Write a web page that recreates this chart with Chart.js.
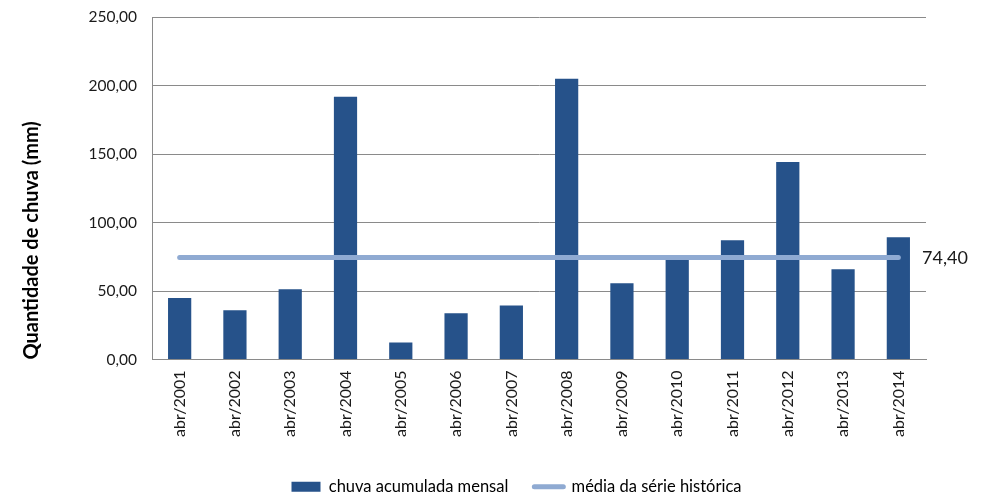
<!DOCTYPE html>
<html>
<head>
<meta charset="utf-8">
<script src="https://cdn.jsdelivr.net/npm/chart.js@4"></script>
<style>
  html, body { margin: 0; padding: 0; background: #fff; }
  #wrap { width: 991px; height: 499px; position: relative; }
</style>
</head>
<body>
<div id="wrap"><canvas id="c" width="991" height="499"></canvas></div>
<script>
const categories = ["abr/2001","abr/2002","abr/2003","abr/2004","abr/2005","abr/2006","abr/2007","abr/2008","abr/2009","abr/2010","abr/2011","abr/2012","abr/2013","abr/2014"];
const chuvaMensal = [44.8, 35.9, 51.2, 191.7, 12.4, 33.7, 39.5, 205.0, 55.6, 74.0, 87.1, 144.2, 65.9, 89.3];
const mediaHistorica = 74.40;
const mediaSerie = categories.map(() => mediaHistorica);
const yTicks = [0, 50, 100, 150, 200, 250];

const FONT = "Lato, 'Open Sans', sans-serif";
const BAR_COLOR = "#26528A";
const LINE_COLOR = "#8FAAD2";
const GRID_COLOR = "#8A8A8A";

function fmt(v) { return v.toFixed(2).replace('.', ','); }

const mediaLabel = {
  id: 'mediaLabel',
  afterLayout(chart) {
    const lg = chart.legend;
    if (!lg) return;
    const shift = 516.5 - (lg.left + lg.right) / 2;
    lg.left += shift; lg.right += shift;
    lg.top += 6; lg.bottom += 6;
  },
  afterDatasetsDraw(chart) {
    const meta = chart.getDatasetMeta(0);
    const last = meta.data[meta.data.length - 1];
    const ctx = chart.ctx;
    ctx.save();
    ctx.font = "18px " + FONT;
    ctx.fillStyle = "#1a1a1a";
    ctx.textAlign = "left";
    ctx.textBaseline = "middle";
    ctx.fillText(fmt(mediaHistorica), chart.chartArea.right - 4, last.y + 1);
    ctx.restore();
  }
};

new Chart(document.getElementById('c'), {
  data: {
    labels: categories,
    datasets: [
      {
        type: 'line',
        label: 'média da série histórica',
        data: mediaSerie,
        borderColor: LINE_COLOR,
        backgroundColor: LINE_COLOR,
        borderWidth: 5,
        borderCapStyle: 'round',
        pointRadius: 0,
        order: 0
      },
      {
        type: 'bar',
        label: 'chuva acumulada mensal',
        data: chuvaMensal,
        backgroundColor: BAR_COLOR,
        categoryPercentage: 1.0,
        barPercentage: 0.42,
        order: 1
      }
    ]
  },
  options: {
    responsive: false,
    animation: false,
    layout: { padding: { left: 0, right: 65, top: 17, bottom: 0 } },
    plugins: {
      tooltip: { enabled: false },
      legend: {
        position: 'bottom',
        labels: {
          font: { family: FONT, size: 16.5 },
          color: '#1a1a1a',
          boxWidth: 29,
          boxHeight: 10,
          padding: 26,
          usePointStyle: true,
          pointStyleWidth: 29,
          generateLabels(chart) {
            return [
              { text: 'chuva acumulada mensal', fillStyle: BAR_COLOR, strokeStyle: BAR_COLOR, lineWidth: 0, pointStyle: 'rect', datasetIndex: 1, hidden: false },
              { text: 'média da série histórica', fillStyle: LINE_COLOR, strokeStyle: LINE_COLOR, lineWidth: 5, lineCap: 'round', pointStyle: 'line', datasetIndex: 0, hidden: false }
            ];
          }
        }
      }
    },
    scales: {
      x: {
        grid: { display: false, drawTicks: false },
        border: { display: true, color: GRID_COLOR, width: 1 },
        ticks: {
          font: { family: FONT, size: 16 },
          color: '#1a1a1a',
          maxRotation: 90,
          minRotation: 90,
          padding: 11,
          autoSkip: false
        },
        afterFit(scale) { scale.height = 87; scale.paddingLeft = 0; scale.paddingRight = 0; }
      },
      y: {
        min: 0,
        max: 250,
        afterBuildTicks(scale) { scale.ticks = yTicks.map(v => ({ value: v })); },
        grid: { color: GRID_COLOR, drawTicks: false, lineWidth: 1 },
        border: { display: true, color: GRID_COLOR, width: 1 },
        ticks: {
          font: { family: FONT, size: 15.5 },
          color: '#1a1a1a',
          padding: 15,
          callback: (v) => fmt(v)
        },
        title: {
          display: true,
          align: 'start',
          text: 'Quantidade de chuva (mm)',
          font: { family: FONT, size: 20, weight: 'bold' },
          color: '#000',
          padding: { top: 20, bottom: 0 }
        },
        afterFit(scale) { scale.width = 152; scale.paddingTop = 0; scale.paddingBottom = 0; }
      }
    }
  },
  plugins: [mediaLabel]
});
</script>
</body>
</html>
